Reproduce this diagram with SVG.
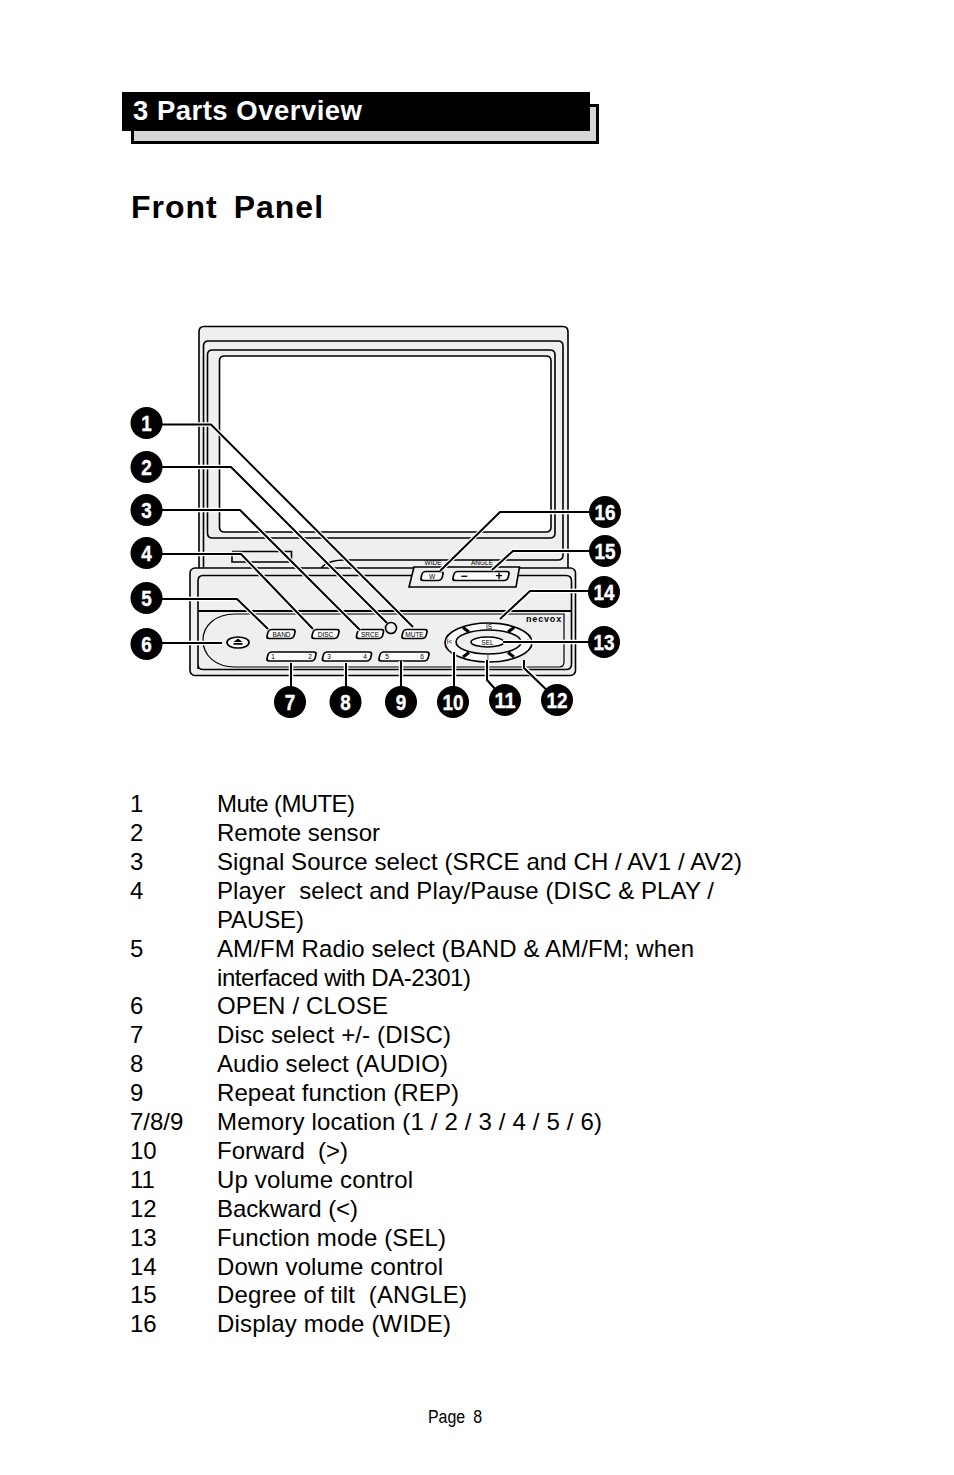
<svg xmlns="http://www.w3.org/2000/svg" width="954" height="1475" viewBox="0 0 954 1475">
<style>
text{font-family:"Liberation Sans",Arial,sans-serif;fill:#000;white-space:pre}
.b{font-size:24px}
.p{fill:#efefef;stroke:#000;stroke-width:1.6}
.w{fill:#fff;stroke:#000;stroke-width:1.6}
.k{fill:#fcfcfc;stroke:#000;stroke-width:1.7}
.t{font-size:6.500px;text-anchor:middle}
.n{fill:#000}
.c{font-size:21.500px;font-weight:bold;fill:#fff;stroke:#fff;stroke-width:.4;text-anchor:middle}
.h{fill:none;stroke:#fff;stroke-width:4.500}
.l{fill:none;stroke:#000;stroke-width:2}
</style>
<g id="header">
<rect x="132.500" y="105.500" width="465" height="37" fill="#d5d5d5" stroke="#000" stroke-width="3"/>
<rect x="122" y="92" width="468" height="39" fill="#000"/>
<text x="133" y="120" font-size="27.500" font-weight="bold" style="fill:#fff" textLength="229">3 Parts Overview</text>
</g>
<text id="title" x="131" y="218" font-size="32" font-weight="bold" letter-spacing="1" word-spacing="6">Front Panel</text>
<g id="device">
<path class="p" d="M199 570V332q0-5.500 5-5.500H563q5 0 5 5.500V570z"/>
<path class="p" d="M203.500 570V346q0-5 5-5H558q5 0 5 5V555q0 5-5 5H345q-15 0-22 6l-3 4z"/>
<path class="p" d="M207.500 355q0-5 5-5H550q5 0 5 5V533q0 5-5 5H212.500q-5 0-5-5z"/>
<path class="w" d="M219.500 361q0-5 5-5H546q5 0 5 5V527q0 5-5 5H224.500q-5 0-5-5z"/>
<path d="M232 551.500H291.500V562H232V556" fill="none" stroke="#000" stroke-width="1.600"/>
<rect class="p" x="190" y="568" width="385.500" height="107.500" rx="5"/>
<path class="p" d="M198 669V581q0-5.500 5-5.500H566q5.500 0 5.500 5.500V664q0 5.500-5.500 5.500H203q-5 0-5-5z"/>
<path d="M198 611H571.500" fill="none" stroke="#000" stroke-width="1.800"/>
<path d="M235 614H564V662q0 5-5 5H235C215 667 203 655 203 640C203 626 215 614 235 614z" fill="none" stroke="#000" stroke-width="1.200"/>
<path class="p" d="M414 567H519.500L516 587H409z"/>
</g>
<g id="btn-wide"><rect class="k" x="-10.500" y="-4.500" width="21" height="9" rx="3" transform="translate(432 576) skewX(-14)"/><text class="t" x="432" y="579">W</text><text class="t" x="433" y="564.500">WIDE</text></g>
<g id="btn-angle"><rect class="k" x="-27.500" y="-4.500" width="55" height="9" rx="3" transform="translate(481 576) skewX(-14)"/><text x="464" y="580" font-size="12" font-weight="bold" text-anchor="middle">−</text><text x="499" y="580" font-size="12" font-weight="bold" text-anchor="middle">+</text><text class="t" x="482" y="564.500">ANGLE</text></g>
<g id="btn-band"><rect class="k" x="-13.500" y="-4.500" width="27" height="9" rx="3" transform="translate(281 634) skewX(-14)"/><text class="t" x="281.500" y="636.500">BAND</text></g>
<g id="btn-disc"><rect class="k" x="-13" y="-4.500" width="26" height="9" rx="3" transform="translate(325.500 634) skewX(-14)"/><text class="t" x="325.500" y="636.500">DISC</text></g>
<g id="btn-srce"><rect class="k" x="-13" y="-4.500" width="26" height="9" rx="3" transform="translate(370 634) skewX(-14)"/><text class="t" x="370" y="636.500">SRCE</text></g>
<g id="sensor"><circle class="p" cx="391" cy="628" r="5.500"/></g>
<g id="btn-mute"><rect class="k" x="-12" y="-4.500" width="24" height="9" rx="3" transform="translate(414.500 634) skewX(-14)"/><text class="t" x="414.500" y="636.500">MUTE</text></g>
<g id="btn-eject"><ellipse class="k" cx="238" cy="642.500" rx="11" ry="5.500"/><path class="n" d="M238 638.500l4.500 3.500h-9zM233.500 643h9v1.800h-9z"/></g>
<g id="btn-12"><rect class="k" x="-24" y="-4.500" width="48" height="9" rx="3" transform="translate(291.500 656.500) skewX(-14)"/><text class="t" x="273" y="659">1</text><text class="t" x="310" y="659">2</text></g>
<g id="btn-34"><rect class="k" x="-24" y="-4.500" width="48" height="9" rx="3" transform="translate(347 656.500) skewX(-14)"/><text class="t" x="329" y="659">3</text><text class="t" x="365" y="659">4</text></g>
<g id="btn-56"><rect class="k" x="-24.500" y="-4.500" width="49" height="9" rx="3" transform="translate(404 656.500) skewX(-14)"/><text class="t" x="387" y="659">5</text><text class="t" x="422" y="659">6</text></g>
<text id="logo" x="526" y="622" font-size="8.500" font-weight="bold" letter-spacing=".8" textLength="36" lengthAdjust="spacingAndGlyphs">necvox</text>
<g id="nav">
<ellipse class="k" cx="488.500" cy="642.500" rx="43.500" ry="19.500"/>
<ellipse class="p" cx="488.500" cy="642" rx="32.500" ry="12"/>
<path d="M463 627.500l6 4.500M514 627.500l-6 4.500M463 657l6-4.500M514 657l-6-4.500" stroke="#000" stroke-width="3" fill="none"/>
<ellipse class="w" cx="487.500" cy="642" rx="16.500" ry="5"/>
<text class="t" x="487.500" y="644.500">SEL</text>
<text class="t" x="489" y="628.500">IS</text><text class="t" x="449.500" y="644" font-size="5">I&lt;</text><text class="t" x="526" y="643.500">&gt;I</text><text class="t" x="488" y="660">I</text>
</g>
<g id="connectors">
<path class="h" d="M192 424.500H211L413 627M192 467H231L387 623M192 510H240L360 630M192 554H241L313 629M185 599H237L268 629M185 643H222M291 663V690M346 663V690M401 661V690M454 652V690M487 660V680L495 688M524 660V668L547 688M503 642H590M500 619L530 591H590M492 570L513 551H590M440 571L500 512H590"/>
<path class="l" d="M146 424.500H211L413 627"/>
<path class="l" d="M146 467H231L387 623"/>
<path class="l" d="M146 510H240L360 630"/>
<path class="l" d="M146 554H241L313 629"/>
<path class="l" d="M146 599H237L268 629"/>
<path class="l" d="M146 643H222"/>
<path class="l" d="M291 663V702"/>
<path class="l" d="M346 663V702"/>
<path class="l" d="M401 661V702"/>
<path class="l" d="M454 652V702"/>
<path class="l" d="M487 660V680L505 700"/>
<path class="l" d="M524 660V668L557 700"/>
<path class="l" d="M503 642H604"/>
<path class="l" d="M500 619L530 591H604"/>
<path class="l" d="M492 570L513 551H605"/>
<path class="l" d="M440 571L500 512H605"/>
</g>
<g id="c1"><circle class="n" cx="146.500" cy="423" r="16"/><text class="c" x="146.500" y="430.500" textLength="10.500" lengthAdjust="spacingAndGlyphs">1</text></g>
<g id="c2"><circle class="n" cx="146.500" cy="467" r="16"/><text class="c" x="146.500" y="474.500" textLength="10.500" lengthAdjust="spacingAndGlyphs">2</text></g>
<g id="c3"><circle class="n" cx="146.500" cy="510" r="16"/><text class="c" x="146.500" y="517.500" textLength="10.500" lengthAdjust="spacingAndGlyphs">3</text></g>
<g id="c4"><circle class="n" cx="146.500" cy="553" r="16"/><text class="c" x="146.500" y="560.500" textLength="10.500" lengthAdjust="spacingAndGlyphs">4</text></g>
<g id="c5"><circle class="n" cx="146.500" cy="598" r="16"/><text class="c" x="146.500" y="605.500" textLength="10.500" lengthAdjust="spacingAndGlyphs">5</text></g>
<g id="c6"><circle class="n" cx="146.500" cy="644" r="16"/><text class="c" x="146.500" y="651.500" textLength="10.500" lengthAdjust="spacingAndGlyphs">6</text></g>
<g id="c7"><circle class="n" cx="290" cy="702" r="16"/><text class="c" x="290" y="709.500" textLength="10.500" lengthAdjust="spacingAndGlyphs">7</text></g>
<g id="c8"><circle class="n" cx="345.500" cy="702" r="16"/><text class="c" x="345.500" y="709.500" textLength="10.500" lengthAdjust="spacingAndGlyphs">8</text></g>
<g id="c9"><circle class="n" cx="401" cy="702" r="16"/><text class="c" x="401" y="709.500" textLength="10.500" lengthAdjust="spacingAndGlyphs">9</text></g>
<g id="c10"><circle class="n" cx="453" cy="702" r="16"/><text class="c" x="453" y="709.500" textLength="21" lengthAdjust="spacingAndGlyphs">10</text></g>
<g id="c11"><circle class="n" cx="505" cy="700" r="16"/><text class="c" x="505" y="707.500" textLength="21" lengthAdjust="spacingAndGlyphs">11</text></g>
<g id="c12"><circle class="n" cx="557" cy="700" r="16"/><text class="c" x="557" y="707.500" textLength="21" lengthAdjust="spacingAndGlyphs">12</text></g>
<g id="c13"><circle class="n" cx="604" cy="642" r="16"/><text class="c" x="604" y="649.500" textLength="21" lengthAdjust="spacingAndGlyphs">13</text></g>
<g id="c14"><circle class="n" cx="604" cy="592" r="16"/><text class="c" x="604" y="599.500" textLength="21" lengthAdjust="spacingAndGlyphs">14</text></g>
<g id="c15"><circle class="n" cx="605" cy="551" r="16"/><text class="c" x="605" y="558.500" textLength="21" lengthAdjust="spacingAndGlyphs">15</text></g>
<g id="c16"><circle class="n" cx="605" cy="512" r="16"/><text class="c" x="605" y="519.500" textLength="21" lengthAdjust="spacingAndGlyphs">16</text></g>
<g id="list">
<text class="b" x="130" y="812">1</text><text class="b" x="217" y="812" textLength="138">Mute (MUTE)</text>
<text class="b" x="130" y="841">2</text><text class="b" x="217" y="841" textLength="163">Remote sensor</text>
<text class="b" x="130" y="870">3</text><text class="b" x="217" y="870" textLength="525">Signal Source select (SRCE and CH / AV1 / AV2)</text>
<text class="b" x="130" y="899">4</text><text class="b" x="217" y="899" textLength="497">Player  select and Play/Pause (DISC &amp; PLAY /</text>
<text class="b" x="217" y="928" textLength="87">PAUSE)</text>
<text class="b" x="130" y="957">5</text><text class="b" x="217" y="957" textLength="477">AM/FM Radio select (BAND &amp; AM/FM; when</text>
<text class="b" x="217" y="986" textLength="254">interfaced with DA-2301)</text>
<text class="b" x="130" y="1014">6</text><text class="b" x="217" y="1014" textLength="171">OPEN / CLOSE</text>
<text class="b" x="130" y="1043">7</text><text class="b" x="217" y="1043" textLength="234">Disc select +/- (DISC)</text>
<text class="b" x="130" y="1072">8</text><text class="b" x="217" y="1072" textLength="231">Audio select (AUDIO)</text>
<text class="b" x="130" y="1101">9</text><text class="b" x="217" y="1101" textLength="242">Repeat function (REP)</text>
<text class="b" x="130" y="1130">7/8/9</text><text class="b" x="217" y="1130" textLength="385">Memory location (1 / 2 / 3 / 4 / 5 / 6)</text>
<text class="b" x="130" y="1159">10</text><text class="b" x="217" y="1159" textLength="131">Forward  (&gt;)</text>
<text class="b" x="130" y="1188">11</text><text class="b" x="217" y="1188" textLength="196">Up volume control</text>
<text class="b" x="130" y="1217">12</text><text class="b" x="217" y="1217" textLength="141">Backward (&lt;)</text>
<text class="b" x="130" y="1246">13</text><text class="b" x="217" y="1246" textLength="229">Function mode (SEL)</text>
<text class="b" x="130" y="1275">14</text><text class="b" x="217" y="1275" textLength="226">Down volume control</text>
<text class="b" x="130" y="1303">15</text><text class="b" x="217" y="1303" textLength="250">Degree of tilt  (ANGLE)</text>
<text class="b" x="130" y="1332">16</text><text class="b" x="217" y="1332" textLength="234">Display mode (WIDE)</text>
</g>
<text id="page" x="428" y="1423" font-size="18" textLength="54" word-spacing="4" lengthAdjust="spacingAndGlyphs">Page 8</text>
</svg>
